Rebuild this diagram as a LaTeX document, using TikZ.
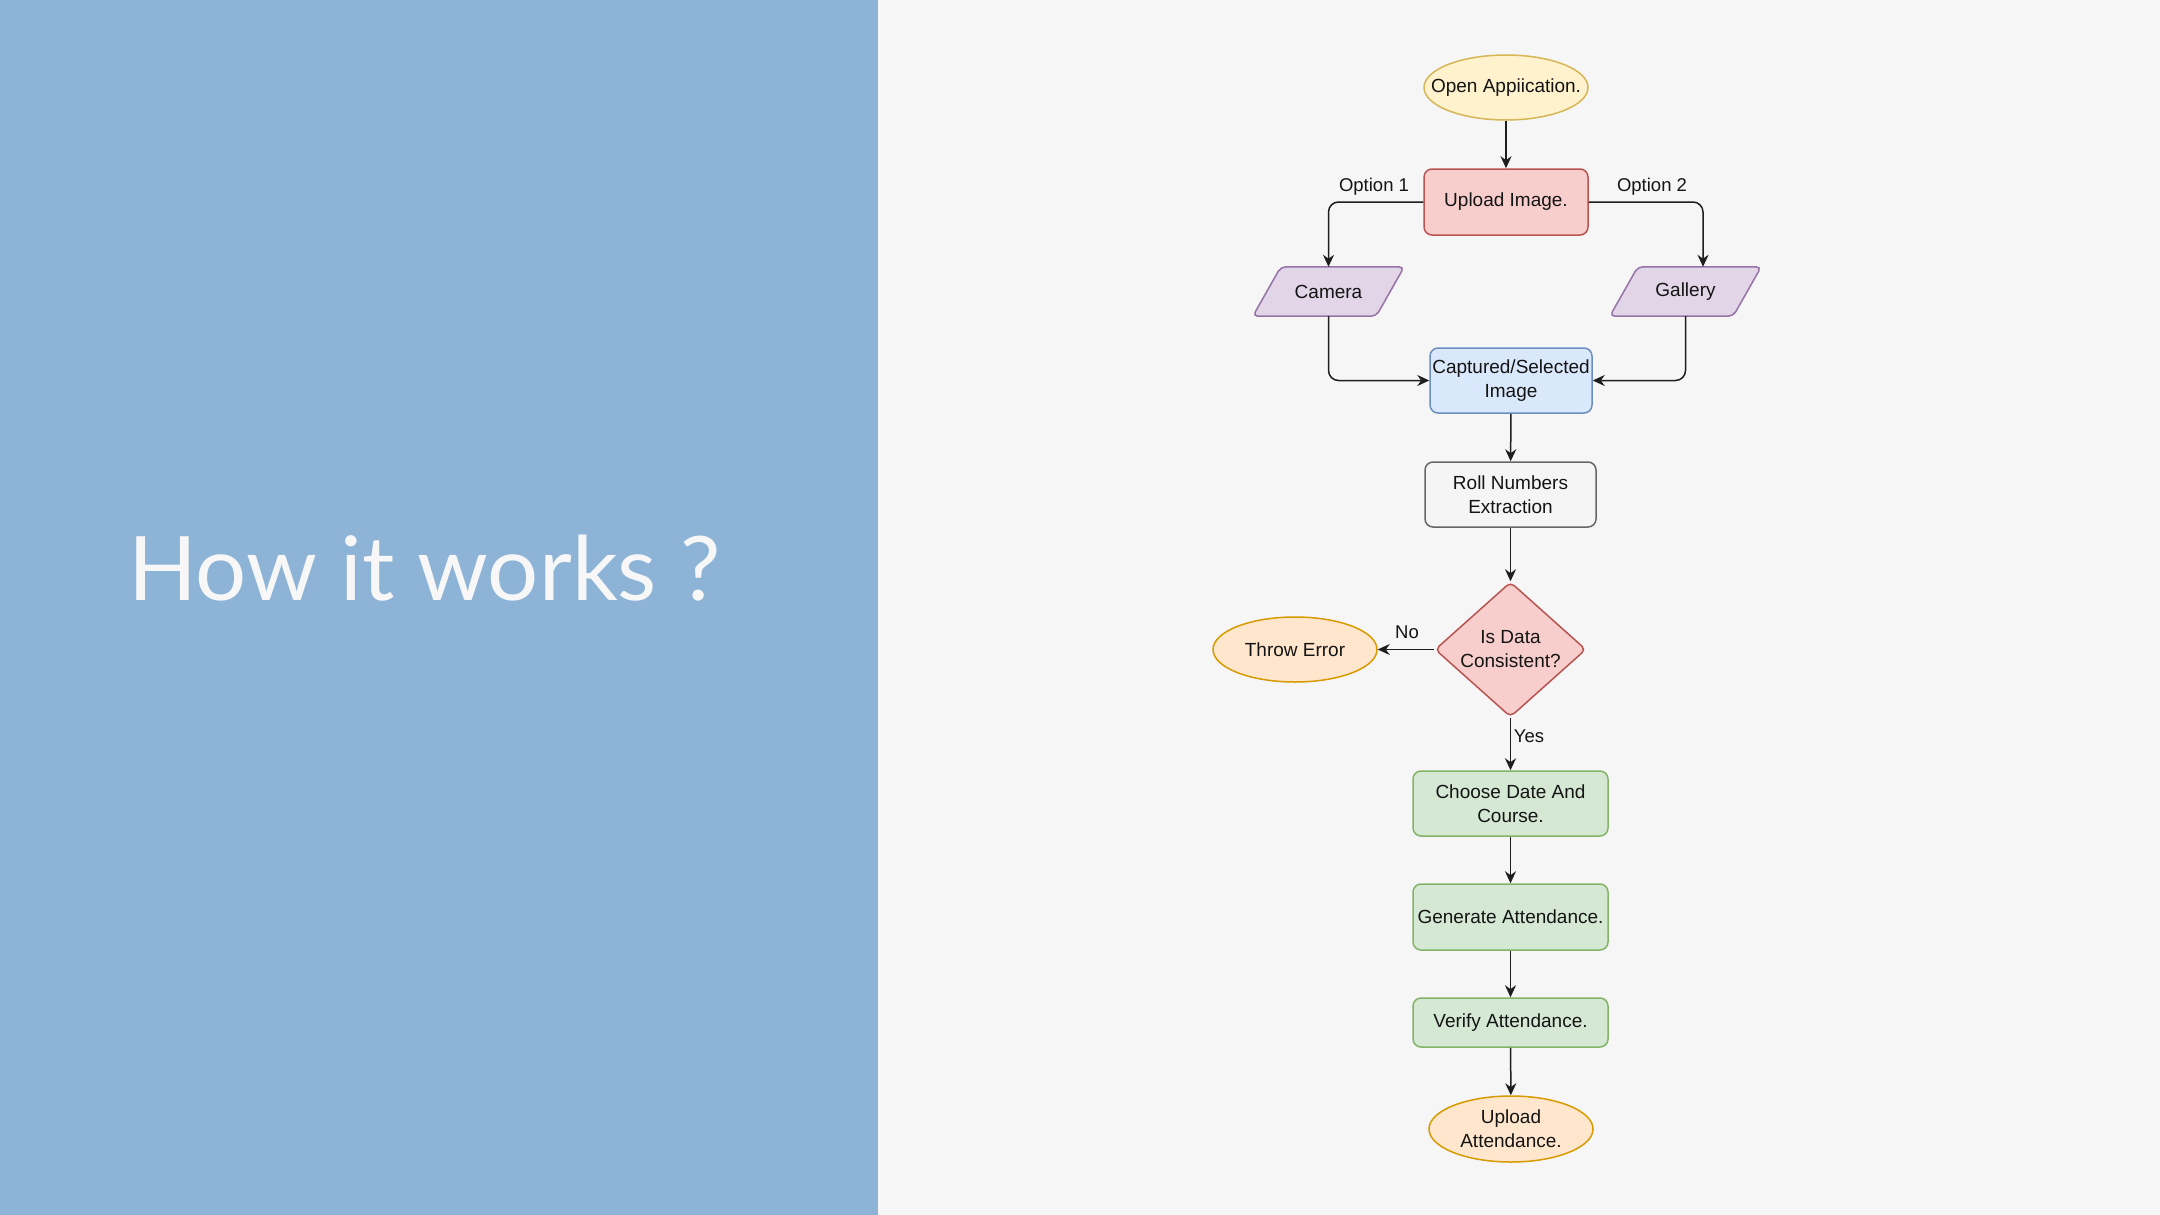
\documentclass[tikz,border=0pt]{standalone}
\usepackage{fontspec}
\usepackage{graphicx}
\setmainfont{Liberation Sans}
\newfontfamily\titlefont{Lato}
\usetikzlibrary{shapes.geometric,arrows.meta}
\pgfdeclarelayer{back}
\pgfsetlayers{back,main}

\definecolor{panelblue}{HTML}{8DB3D7}
\definecolor{pagebg}{HTML}{F6F6F6}
\definecolor{txt}{HTML}{141414}
\definecolor{wire}{HTML}{1E1E1E}
\definecolor{yelF}{HTML}{FFF2CC}\definecolor{yelD}{HTML}{D6B656}
\definecolor{redF}{HTML}{F8CECC}\definecolor{redD}{HTML}{B85450}
\definecolor{purF}{HTML}{E1D5E7}\definecolor{purD}{HTML}{9673A6}
\definecolor{bluF}{HTML}{DAE8FC}\definecolor{bluD}{HTML}{6C8EBF}
\definecolor{gryF}{HTML}{F5F5F5}\definecolor{gryD}{HTML}{666666}
\definecolor{orgF}{HTML}{FFE6CC}\definecolor{orgD}{HTML}{D79B00}
\definecolor{grnF}{HTML}{D5E8D4}\definecolor{grnD}{HTML}{82B366}

% zero-width line so that shapes keep their own size
\newcommand{\zw}[1]{\makebox[0pt]{#1}}

\begin{document}
\begin{tikzpicture}[x=1pt,y=-1pt,
  every node/.style={font=\fontsize{19}{24}\selectfont, text=txt, align=center, inner sep=0pt},
  shapeline/.style={draw, line width=1.5pt},
  procbox/.style={shapeline, rectangle, rounded corners=8pt},
  termbox/.style={shapeline, ellipse},
  decbox/.style={shapeline, diamond, aspect=1.12, rounded corners=5pt},
  iobox/.style={rectangle, minimum width=151pt, minimum height=49pt},
  iofill/.style={draw=purD, fill=purF, line width=1.5pt, rounded corners=5pt},
  conn/.style={draw=wire, line width=1.5pt, -{Stealth[length=12pt,width=11pt]}},
  lbl/.style={font=\fontsize{18.5}{22}\selectfont}
]
\useasboundingbox (0,0) rectangle (2160,1215);

% page backgrounds
\begin{pgfonlayer}{back}
  \fill[pagebg] (0,0) rectangle (2160,1215);
  \fill[panelblue] (0,0) rectangle (878,1215);
\end{pgfonlayer}

% title
\node[anchor=base west, text=white!97!black] (title) at (128,600)
  {\titlefont\fontsize{89}{92}\selectfont\resizebox{592pt}{\height}{How it works ?}};

% flowchart nodes
\node[termbox, fill=yelF, draw=yelD, minimum width=164pt, minimum height=65pt] (open) at (1506,87.5) {\zw{Open Appiication.}};
\node[procbox, fill=redF, draw=redD, minimum width=164pt, minimum height=66pt] (upload) at (1506,202) {Upload Image.};
\node[iobox] (camera) at (1328.5,291.5) {Camera};
\node[iobox] (gallery) at (1685.5,291.5) {Gallery};
\node[procbox, fill=bluF, draw=bluD, minimum width=162pt, minimum height=65pt] (captured) at (1511,380.5) {Captured/Selected\\Image};
\node[procbox, fill=gryF, draw=gryD, minimum width=171pt, minimum height=65pt] (roll) at (1510.5,494.5) {Roll Numbers\\Extraction};
\node[decbox, fill=redF, draw=redD, minimum width=151pt, minimum height=135pt] (dec) at (1510.5,649.5) {Is Data\\Consistent?};
\node[termbox, fill=orgF, draw=orgD, minimum width=164pt, minimum height=65pt] (throw) at (1295,649.5) {\zw{Throw Error}};
\node[procbox, fill=grnF, draw=grnD, minimum width=195pt, minimum height=65pt] (choose) at (1510.5,803.5) {Choose Date And\\Course.};
\node[procbox, fill=grnF, draw=grnD, minimum width=195pt, minimum height=66pt] (generate) at (1510.5,917) {\zw{Generate Attendance.}};
\node[procbox, fill=grnF, draw=grnD, minimum width=195pt, minimum height=49pt] (verify) at (1510.5,1022.5) {Verify Attendance.};
\node[termbox, fill=orgF, draw=orgD, minimum width=164pt, minimum height=66pt] (uploadatt) at (1511,1129) {\zw{Upload}\\\zw{Attendance.}};

% input/output parallelograms
\begin{pgfonlayer}{back}
  \draw[iofill] ([xshift=28pt]camera.north west) -- (camera.north east)
    -- ([xshift=-28pt]camera.south east) -- (camera.south west) -- cycle;
  \draw[iofill] ([xshift=28pt]gallery.north west) -- (gallery.north east)
    -- ([xshift=-28pt]gallery.south east) -- (gallery.south west) -- cycle;
\end{pgfonlayer}

% connectors
\draw[conn] (open) -- (upload);
\draw[conn, rounded corners=10pt] (upload.west) -| (camera.north);
\draw[conn, rounded corners=10pt] (upload.east) -| ([xshift=17.5pt]gallery.north);
\draw[conn, rounded corners=10pt] (camera.south) |- (captured.west);
\draw[conn, rounded corners=10pt] (gallery.south) |- (captured.east);
\draw[conn] (captured) -- (roll);
\draw[conn] (roll) -- (dec);
\draw[conn] (dec) -- (throw);
\draw[conn] (dec) -- (choose);
\draw[conn] (choose) -- (generate);
\draw[conn] (generate) -- (verify);
\draw[conn] (verify) -- (uploadatt);

% connector labels
\node[lbl] (opt1) at (1374,187) {Option 1};
\node[lbl] (opt2) at (1652,187) {Option 2};
\node[lbl] (no) at (1407,632) {No};
\node[lbl] (yes) at (1529,736) {Yes};
\end{tikzpicture}
\end{document}
